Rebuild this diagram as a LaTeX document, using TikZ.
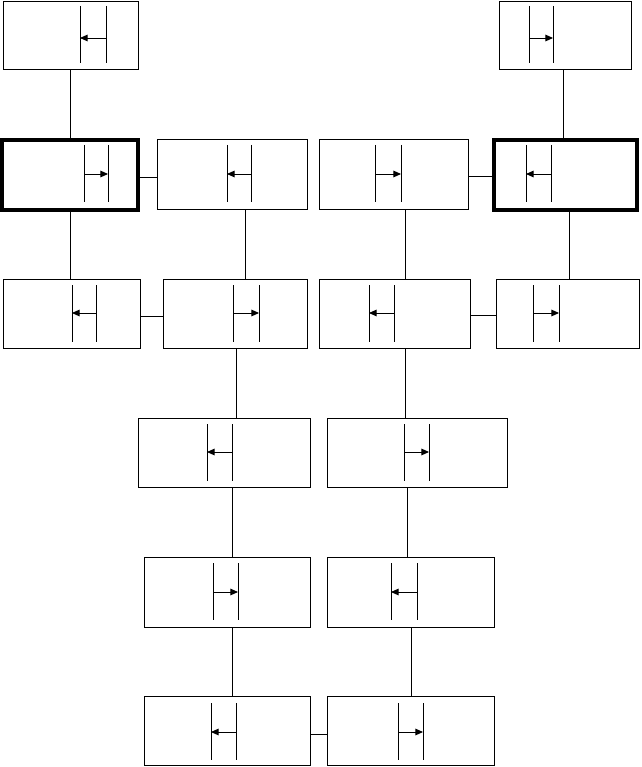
\documentclass[tikz,border=0pt]{standalone}
\usepackage{tikz}
\usetikzlibrary{arrows.meta,calc}
\tikzset{
  stage/.style={draw, line width=0.8pt, inner sep=0pt},
  init/.style={stage, line width=2.6pt},
  sz/.style 2 args={minimum width=#1*0.03cm, minimum height=#2*0.03cm},
  wire/.style={line width=0.8pt},
  farr/.style={-{Triangle[length=2.3mm, width=2mm]}, line width=0.8pt},
}
% pair of bars with an arrow between them: left x, right x, top y, arrow y
\newcommand{\flapl}[4]{%
  \draw[wire] (#1,#3) -- (#1,#3+57);
  \draw[wire] (#2,#3) -- (#2,#3+57);
  \draw[farr] (#2,#4) -- (#1,#4);}
\newcommand{\flapr}[4]{%
  \draw[wire] (#1,#3) -- (#1,#3+57);
  \draw[wire] (#2,#3) -- (#2,#3+57);
  \draw[farr] (#1,#4) -- (#2,#4);}
\begin{document}
\begin{tikzpicture}[x=0.03cm, y=-0.03cm]
  \useasboundingbox (0,0) rectangle (641,767);
  % boxes
  \node[stage, sz={135}{68}] (A) at (70.5,35) {};
  \node[stage, sz={132}{68}] (B) at (565,35) {};
  \node[init,  sz={136}{70}] (C) at (70,175) {};
  \node[stage, sz={150}{70}] (D) at (232,174) {};
  \node[stage, sz={149}{70}] (E) at (393.5,174) {};
  \node[init,  sz={143}{70}] (F) at (565.5,175) {};
  \node[stage, sz={137}{69}] (G) at (71.5,313.5) {};
  \node[stage, sz={144}{69}] (H) at (235,313.5) {};
  \node[stage, sz={151}{69}] (I) at (394.5,313.5) {};
  \node[stage, sz={143}{69}] (J) at (567.5,313.5) {};
  \node[stage, sz={172}{69}] (K) at (224,452.5) {};
  \node[stage, sz={180}{69}] (L) at (417,452.5) {};
  \node[stage, sz={166}{70}] (M) at (227,592) {};
  \node[stage, sz={167}{70}] (N) at (410.5,592) {};
  \node[stage, sz={166}{69}] (O) at (227,730.5) {};
  \node[stage, sz={167}{69}] (P) at (410.5,730.5) {};
  % links
  \draw[wire] (A.south -| 70,0) -- (C.north -| 70,0);
  \draw[wire] (B.south -| 563,0) -- (F.north -| 563,0);
  \draw[wire] (C.south -| 70,0) -- (G.north -| 70,0);
  \draw[wire] (D.south -| 245,0) -- (H.north -| 245,0);
  \draw[wire] (E.south -| 405,0) -- (I.north -| 405,0);
  \draw[wire] (F.south -| 569,0) -- (J.north -| 569,0);
  \draw[wire] (C.east |- 0,177) -- (D.west |- 0,177);
  \draw[wire] (E.east |- 0,176) -- (F.west |- 0,176);
  \draw[wire] (G.east |- 0,316) -- (H.west |- 0,316);
  \draw[wire] (I.east |- 0,315) -- (J.west |- 0,315);
  \draw[wire] (H.south -| 236,0) -- (K.north -| 236,0);
  \draw[wire] (I.south -| 405,0) -- (L.north -| 405,0);
  \draw[wire] (K.south -| 232,0) -- (M.north -| 232,0);
  \draw[wire] (L.south -| 407,0) -- (N.north -| 407,0);
  \draw[wire] (M.south -| 232,0) -- (O.north -| 232,0);
  \draw[wire] (N.south -| 411,0) -- (P.north -| 411,0);
  \draw[wire] (O.east |- 0,734) -- (P.west |- 0,734);
  % flaps
  \flapl{80}{106}{6}{38}
  \flapr{529}{553}{6}{38}
  \flapr{84}{108}{145}{174}
  \flapl{227}{251}{145}{174}
  \flapr{375}{401}{145}{174}
  \flapl{526}{551}{145}{174}
  \flapl{72}{96}{285}{313}
  \flapr{233}{259}{285}{313}
  \flapl{369}{394}{285}{313}
  \flapr{533}{559}{285}{313}
  \flapl{207}{232}{424}{452}
  \flapr{404}{429}{424}{452}
  \flapr{213}{238}{563}{592}
  \flapl{391}{417}{563}{592}
  \flapl{211}{236}{703}{732}
  \flapr{398}{423}{703}{732}
\end{tikzpicture}
\end{document}
